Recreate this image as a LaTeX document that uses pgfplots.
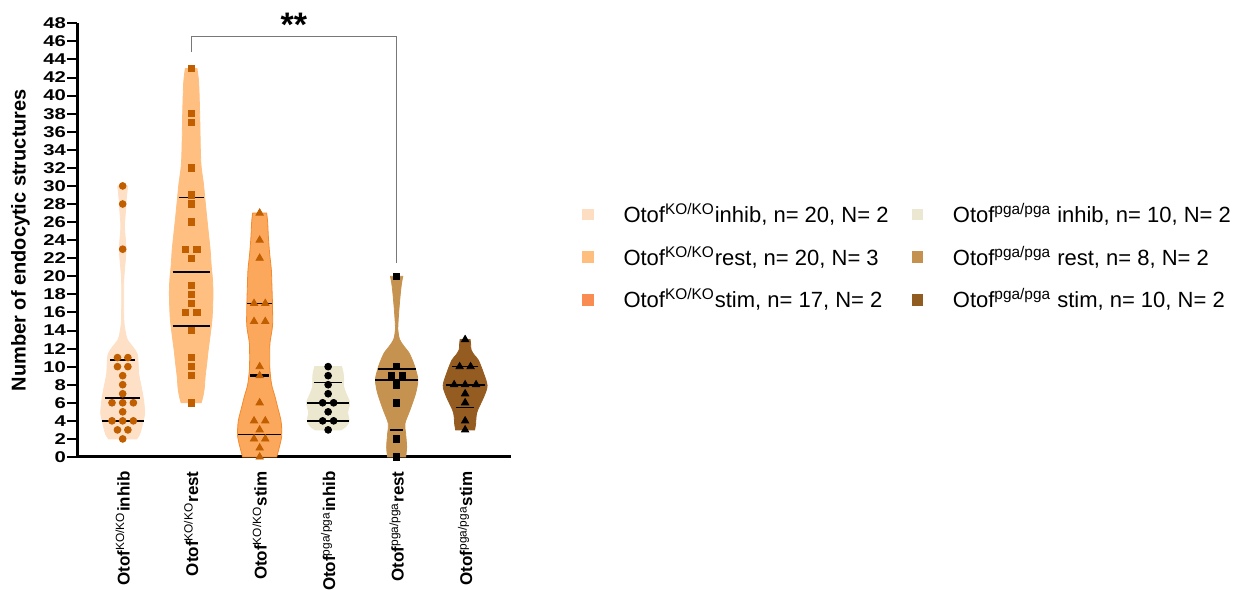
\documentclass[border=0pt]{standalone}
\usepackage{pgfplots}
\usepackage{pgfplotstable}
\pgfplotsset{compat=1.18}
\usepgfplotslibrary{fillbetween}
\usepackage{fontspec}
\setmainfont{Liberation Sans}
\newfontfamily\tickfont{Liberation Sans}[FakeStretch=1.3]

\definecolor{f1}{RGB}{253,224,198}
\definecolor{f2}{RGB}{254,191,128}
\definecolor{f3}{RGB}{251,168,92}
\definecolor{o3}{RGB}{245,138,45}
\definecolor{f4}{RGB}{236,232,208}
\definecolor{f5}{RGB}{198,146,80}
\definecolor{f6}{RGB}{148,92,32}
\definecolor{l1}{RGB}{253,222,195}
\definecolor{l2}{RGB}{254,190,125}
\definecolor{l3}{RGB}{249,140,82}
\definecolor{l4}{RGB}{235,231,208}
\definecolor{l5}{RGB}{196,146,78}
\definecolor{l6}{RGB}{145,92,32}
\definecolor{ko}{RGB}{192,94,0}
\definecolor{brk}{RGB}{120,120,120}

% violin profiles: y value, half width in pixels (68.5 px = one category)
\pgfplotstableread{
y h
2 14
2.5 17
3.3 19
4 20.5
4.8 22
5.7 21.5
6.6 20.5
7.8 18.5
9.2 16
10.3 15.5
11.4 14.5
12.2 10
12.9 5
13.6 3
14.3 2
15 1.2
17 1
19 1
20 1.3
21 2
22 2.8
23 3.3
24 2.8
25 2
25.6 1.8
26.5 2.3
27.5 3
28.2 3.3
29 4
30 5
}\vA
\pgfplotstableread{
y h
6 10
6.6 11.5
7.5 13
8.9 14
10.3 15.5
11.8 17
13.5 19
15.2 20.8
16.7 21.5
18.2 21.8
19.7 21.3
21.2 20
22.9 19
24.5 17.5
26.6 15.5
28.6 13.7
30.3 12.2
32.1 10
34 9.2
38 8.5
41.4 7.5
43 5.8
}\vB
\pgfplotstableread{
y h
0 17
1 19.5
2.25 22
3.2 22
4.1 21.2
5.3 18.5
6.7 15.3
8 12
9.6 10.3
11 10
12.6 10.3
13.8 12
14.8 13
17 12.8
18.8 12.3
20.7 11.7
22.5 10
24.4 8.7
26 8
27 7
}\vC
\pgfplotstableread{
y h
3 13
3.4 18
4 21
4.9 19.5
6 21.5
7 18
7.8 15.5
8.6 15.5
9.3 15
10 13.5
}\vD
\pgfplotstableread{
y h
0 9
1.1 10
2.6 9
3.7 8.3
5.2 13.3
7.05 19
8.5 21.2
9.6 19.2
10.5 16.5
11.5 12.5
12.3 7
13 3
14.1 1.2
15.9 2
18.1 3.7
19.3 5
20 6.2
}\vE
\pgfplotstableread{
y h
3 9.5
3.7 10.5
4.5 11
5.2 12.5
6.7 18.8
7.9 22
9.3 18.3
10.7 13.3
11.3 9
11.85 6
12.5 5.5
13 5
}\vF

\newcommand{\violin}[4]{% table, category, fill, draw
  \addplot[draw=none, smooth, name path=L#2, forget plot] table[x expr={#2-\thisrow{h}/68.5}, y=y] {#1};
  \addplot[draw=none, smooth, name path=R#2, forget plot] table[x expr={#2+\thisrow{h}/68.5}, y=y] {#1};
  \addplot[fill=#3, draw=#4, line width=0.4pt, forget plot] fill between[of=L#2 and R#2, reverse=true];
}
\newcommand{\legsq}[1]{\fill[#1] (0pt,-2.65pt) rectangle (5.3pt,2.65pt);}

\begin{document}
\begin{tikzpicture}
\begin{axis}[
  at={(38.5pt,66pt)}, anchor=south west,
  scale only axis, width=217pt, height=216.85pt,
  xmin=0.333, xmax=6.67, ymin=0, ymax=48,
  axis x line*=bottom, axis y line*=left,
  axis line style={-, line width=1.5pt, black},
  clip=false,
  ytick={0,2,...,48},
  xtick={1,2,3,4,5,6},
  xticklabels={
    {Otof\textsuperscript{\mdseries KO/KO}inhib},
    {Otof\textsuperscript{\mdseries KO/KO}rest},
    {Otof\textsuperscript{\mdseries KO/KO}stim},
    {Otof\textsuperscript{\mdseries pga/pga}inhib},
    {Otof\textsuperscript{\mdseries pga/pga}rest},
    {Otof\textsuperscript{\mdseries pga/pga}stim}},
  tick align=outside,
  ytick style={black, line width=1pt},
  xtick style={draw=none},
  major tick length=5pt,
  /pgf/number format/assume math mode=true,
  yticklabel style={font=\tickfont\bfseries\fontsize{7.8}{9}\selectfont, inner xsep=0.3pt},
  xticklabel style={rotate=90, anchor=east, font=\bfseries\fontsize{8.5}{10}\selectfont, inner xsep=2pt},
  ylabel={Number of endocytic structures},
  every axis y label/.style={at={(axis description cs:-0.13,0.5)}, anchor=center, rotate=90, font=\bfseries\fontsize{10}{12}\selectfont},
  legend columns=2,
  legend cell align=left,
  legend style={at={(rel axis cs:1.1629,0.461)}, anchor=west, draw=none, fill=none,
    inner sep=0pt, nodes={inner sep=0pt},
    font=\fontsize{11}{13}\selectfont, row sep=10.3pt,
    /tikz/every odd column/.append style={column sep=15pt},
    /tikz/every even column/.append style={column sep=0pt}},
]
\addlegendimage{legend image code/.code={\legsq{l1}}}
\addlegendentry{\makebox[144pt][l]{Otof\textsuperscript{KO/KO}inhib, n= 20, N= 2}}
\addlegendimage{legend image code/.code={\legsq{l4}}}
\addlegendentry{Otof\textsuperscript{pga/pga} inhib, n= 10, N= 2}
\addlegendimage{legend image code/.code={\legsq{l2}}}
\addlegendentry{\makebox[144pt][l]{Otof\textsuperscript{KO/KO}rest, n= 20, N= 3}}
\addlegendimage{legend image code/.code={\legsq{l5}}}
\addlegendentry{Otof\textsuperscript{pga/pga} rest, n= 8, N= 2}
\addlegendimage{legend image code/.code={\legsq{l3}}}
\addlegendentry{\makebox[144pt][l]{Otof\textsuperscript{KO/KO}stim, n= 17, N= 2}}
\addlegendimage{legend image code/.code={\legsq{l6}}}
\addlegendentry{Otof\textsuperscript{pga/pga} stim, n= 10, N= 2}

\violin{\vA}{1}{f1}{f1}
\violin{\vB}{2}{f2}{f2}
\violin{\vC}{3}{f3}{o3}
\violin{\vD}{4}{f4}{f4}
\violin{\vE}{5}{f5}{f5}
\violin{\vF}{6}{f6}{f6}

% quartiles (thin) and medians (thick)
\addplot[black, line width=0.7pt, forget plot] coordinates {(0.818,10.75) (1.182,10.75)};
\addplot[black, line width=1.2pt, forget plot] coordinates {(0.745,6.5) (1.255,6.5)};
\addplot[black, line width=0.7pt, forget plot] coordinates {(0.696,4) (1.304,4)};
\addplot[black, line width=0.7pt, forget plot] coordinates {(1.818,28.75) (2.182,28.75)};
\addplot[black, line width=1.2pt, forget plot] coordinates {(1.730,20.5) (2.270,20.5)};
\addplot[black, line width=0.7pt, forget plot] coordinates {(1.730,14.5) (2.270,14.5)};
\addplot[black, line width=0.7pt, forget plot] coordinates {(2.822,17) (3.178,17)};
\addplot[black, line width=1.2pt, forget plot] coordinates {(2.861,9) (3.139,9)};
\addplot[black, line width=0.7pt, forget plot] coordinates {(2.691,2.5) (3.309,2.5)};
\addplot[black, line width=0.7pt, forget plot] coordinates {(3.800,8.25) (4.200,8.25)};
\addplot[black, line width=1.2pt, forget plot] coordinates {(3.689,6) (4.311,6)};
\addplot[black, line width=0.7pt, forget plot] coordinates {(3.693,4) (4.307,4)};
\addplot[black, line width=0.7pt, forget plot] coordinates {(4.723,9.75) (5.277,9.75)};
\addplot[black, line width=1.2pt, forget plot] coordinates {(4.691,8.5) (5.309,8.5)};
\addplot[black, line width=0.7pt, forget plot] coordinates {(4.908,3) (5.092,3)};
\addplot[black, line width=0.7pt, forget plot] coordinates {(5.806,10) (6.194,10)};
\addplot[black, line width=1.2pt, forget plot] coordinates {(5.715,8) (6.285,8)};
\addplot[black, line width=0.7pt, forget plot] coordinates {(5.873,5.5) (6.127,5.5)};

% data points
\addplot[only marks, mark=*, mark size=1.7pt, ko, forget plot] coordinates {
 (1,30) (1,28) (1,23) (0.924,11) (1.076,11) (0.924,10) (1.076,10) (1,9) (1,8) (1,7)
 (0.844,6) (1,6) (1.156,6) (1,5) (0.844,4) (1,4) (1.156,4) (0.924,3) (1.076,3) (1,2)};
\addplot[only marks, mark=square*, mark size=1.6pt, ko, forget plot] coordinates {
 (2,43) (2,38) (2,37) (2,32) (2,29) (2,28) (2,26) (1.918,23) (2.082,23) (2,22)
 (2,19) (2,18) (2,17) (1.918,16) (2.082,16) (2,14) (2,11) (2,10) (2,9) (2,6)};
\addplot[only marks, mark=triangle*, mark size=2.1pt, ko, forget plot] coordinates {
 (3,27) (3,24) (3,22) (2.918,17) (3.082,17) (2.918,15) (3.082,15) (3,10) (3,9) (3,6)
 (2.918,4) (3.082,4) (3,3) (2.918,2) (3.082,2) (3,1) (3,0)};
\addplot[only marks, mark=*, mark size=1.7pt, black, forget plot] coordinates {
 (4,10) (4,9) (4,8) (4,7) (3.92,6) (4.08,6) (4,5) (3.92,4) (4.08,4) (4,3)};
\addplot[only marks, mark=square*, mark size=1.6pt, black, forget plot] coordinates {
 (5,20) (5,10) (4.92,9) (5.08,9) (5,8) (5,6) (5,2) (5,0)};
\addplot[only marks, mark=triangle*, mark size=2.1pt, black, forget plot] coordinates {
 (6,13) (5.92,10) (6.08,10) (5.84,8) (6,8) (6.16,8) (6,7) (6,6) (6,4) (6,3)};

% significance bracket
\draw[brk, line width=0.6pt] (axis cs:2,44.8) |- (axis cs:5,46.5) -- (axis cs:5,21.5);
\node[font=\bfseries\fontsize{17}{17}\selectfont, anchor=base] at (axis cs:3.5,46.5) {**};
\end{axis}
\pgfresetboundingbox
\path[use as bounding box] (0,0) rectangle (621pt,294.5pt);
\end{tikzpicture}
\end{document}
